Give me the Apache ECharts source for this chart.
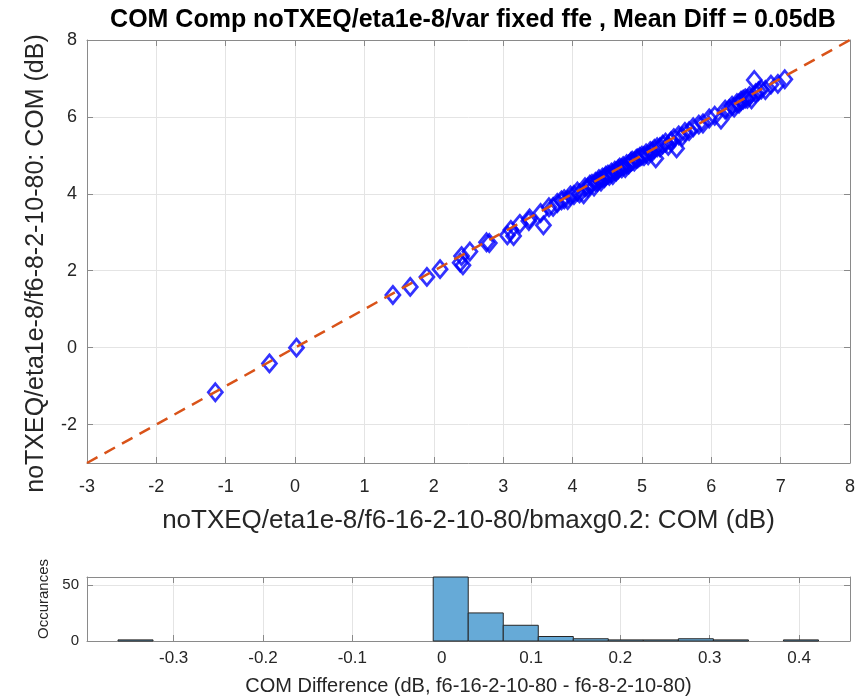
<!DOCTYPE html>
<html>
<head>
<meta charset="utf-8">
<script src="https://cdn.jsdelivr.net/npm/echarts@6/dist/echarts.min.js"></script>
<style>
    html, body { margin: 0; padding: 0; background: #fff; }
    #chart { width: 859px; height: 697px; }
</style>
</head>
<body>
<div id="chart"></div>
<script>
// COM values, f6-16 (x) vs f6-8 (y)
const comX = [-1.15, -0.37, 0.02, 1.41, 1.66, 1.90, 2.09, 2.38, 2.42, 2.40, 2.52, 2.76, 2.80, 3.06, 3.15, 3.11, 3.24, 3.38, 3.37, 3.54,
    3.58, 3.66, 3.72, 3.78, 3.84, 3.88, 3.93, 3.97, 4.02, 4.07, 4.10, 4.16, 4.18, 4.22, 4.25, 4.28, 4.31, 4.33, 4.36, 4.38,
    4.41, 4.43, 4.46, 4.48, 4.51, 4.53, 4.56, 4.58, 4.61, 4.63, 4.66, 4.68, 4.71, 4.73, 4.76, 4.78, 4.81, 4.84, 4.86, 4.89,
    4.92, 4.94, 4.97, 5.00, 5.03, 5.06, 5.09, 5.12, 5.15, 5.20, 5.18, 5.22, 5.26, 5.30, 5.34, 5.38, 5.42, 5.46, 5.50, 5.53,
    5.58, 5.62, 5.68, 5.74, 5.82, 5.88, 5.97, 6.05, 6.14, 6.20, 6.26, 6.30, 6.33, 6.37, 6.40, 6.43, 6.46, 6.49, 6.52, 6.55,
    6.58, 6.62, 6.64, 6.68, 6.72, 6.78, 6.86, 6.96, 7.06];
const comY = [-1.16, -0.41, 0.00, 1.37, 1.58, 1.84, 2.04, 2.21, 2.14, 2.38, 2.50, 2.74, 2.72, 2.92, 2.90, 3.06, 3.22, 3.36, 3.29, 3.50,
    3.18, 3.65, 3.66, 3.76, 3.83, 3.86, 3.84, 3.96, 3.97, 4.06, 4.01, 3.99, 4.17, 4.16, 4.24, 4.26, 4.19, 4.31, 4.31, 4.38,
    4.32, 4.42, 4.41, 4.47, 4.50, 4.47, 4.55, 4.49, 4.60, 4.58, 4.64, 4.68, 4.66, 4.72, 4.67, 4.77, 4.76, 4.83, 4.86, 4.84,
    4.91, 4.92, 4.96, 4.99, 4.98, 5.05, 5.00, 5.11, 5.10, 4.92, 5.17, 5.21, 5.21, 5.28, 5.33, 5.25, 5.37, 5.45, 5.18, 5.52,
    5.49, 5.61, 5.63, 5.73, 5.80, 5.83, 5.96, 6.03, 5.93, 6.19, 6.21, 6.29, 6.24, 6.36, 6.35, 6.42, 6.45, 6.48, 6.47, 6.54,
    6.46, 6.96, 6.62, 6.67, 6.71, 6.70, 6.84, 6.86, 6.98];
// y = x reference line
const refLine = [-3, 8];

// histogram of differences
const binEdges = [-0.3623, -0.3231, -0.2839, -0.2447, -0.2055, -0.1663, -0.1271, -0.0879, -0.0487, -0.0095, 0.0297,
    0.0689, 0.1081, 0.1473, 0.1865, 0.2257, 0.2649, 0.3041, 0.3433, 0.3825, 0.4217];
const binCounts = [1, 0, 0, 0, 0, 0, 0, 0, 0, 57, 25, 14, 4, 2, 1, 1, 2, 1, 0, 1];

const FONT = 'Liberation Sans';
const TXT = '#262626';
const AXC = '#8a8a8a';
const GRIDC = '#e4e4e4';

const scatterData = comX.map((x, i) => [x, comY[i]]);
const histData = binCounts.map((c, i) => [binEdges[i], binEdges[i + 1], c]);

// plain axis used for the box (top/right) and as a base for the labelled ones
const boxAxis = (gridIndex, pos, min, max, extra) => Object.assign({
    gridIndex: gridIndex,
    position: pos,
    type: 'value',
    min: min,
    max: max,
    axisLine: { show: true, onZero: false, lineStyle: { color: AXC, width: 1 } },
    axisTick: { show: true, inside: true, length: 6, lineStyle: { color: AXC } },
    axisLabel: { show: false },
    splitLine: { show: false },
}, extra || {});

let myChart = echarts.init(document.getElementById('chart'));
let option = {
    backgroundColor: '#fff',
    animation: false,
    title: {
        text: 'COM Comp noTXEQ/eta1e-8/var fixed ffe , Mean Diff = 0.05dB',
        left: 468,
        top: 3,
        textAlign: 'center',
        textStyle: { fontFamily: FONT, fontSize: 25, fontWeight: 'bold', color: '#000' },
    },
    grid: [
        { left: 87, right: 9, top: 40, bottom: 234 },
        { left: 87, right: 9, top: 577, bottom: 55 },
    ],
    xAxis: [
        boxAxis(0, 'bottom', -3, 8, {
            interval: 1,
            name: 'noTXEQ/eta1e-8/f6-16-2-10-80/bmaxg0.2: COM (dB)',
            nameLocation: 'middle',
            nameGap: 45,
            nameTextStyle: { fontFamily: FONT, fontSize: 26, color: TXT },
            axisLabel: { show: true, margin: 15, fontFamily: FONT, fontSize: 18, color: TXT },
            splitLine: { show: true, lineStyle: { color: GRIDC, width: 1 } },
        }),
        boxAxis(0, 'top', -3, 8, { interval: 1 }),
        boxAxis(1, 'bottom', -0.397, 0.457, {
            splitNumber: 8,
            name: 'COM Difference (dB, f6-16-2-10-80 - f6-8-2-10-80)',
            nameLocation: 'middle',
            nameGap: 35,
            nameTextStyle: { fontFamily: FONT, fontSize: 20, color: TXT },
            axisLabel: { show: true, margin: 9, fontFamily: FONT, fontSize: 17, color: TXT, showMinLabel: false, showMaxLabel: false },
            splitLine: { show: true, lineStyle: { color: GRIDC, width: 1 } },
        }),
        boxAxis(1, 'top', -0.397, 0.457, { splitNumber: 8 }),
    ],
    yAxis: [
        boxAxis(0, 'left', -3, 8, {
            splitNumber: 6,
            name: 'noTXEQ/eta1e-8/f6-8-2-10-80: COM (dB)',
            nameLocation: 'middle',
            nameGap: 38,
            nameTextStyle: { fontFamily: FONT, fontSize: 25, color: TXT, padding: [0, 24, 0, 0] },
            axisLabel: { show: true, margin: 10, fontFamily: FONT, fontSize: 18, color: TXT, showMinLabel: false },
            splitLine: { show: true, lineStyle: { color: GRIDC, width: 1 } },
        }),
        boxAxis(0, 'right', -3, 8, { splitNumber: 6 }),
        boxAxis(1, 'left', 0, 57, {
            interval: 50,
            name: 'Occurances',
            nameLocation: 'middle',
            nameGap: 36,
            nameTextStyle: { fontFamily: FONT, fontSize: 15, color: TXT, padding: [0, 0, 0, 20] },
            axisLabel: { show: true, margin: 8, fontFamily: FONT, fontSize: 15, color: TXT, showMaxLabel: false },
            splitLine: { show: true, lineStyle: { color: GRIDC, width: 1 } },
        }),
        boxAxis(1, 'right', 0, 57, { interval: 50 }),
    ],
    series: [
        {
            type: 'scatter',
            xAxisIndex: 0,
            yAxisIndex: 0,
            symbol: 'diamond',
            symbolSize: [14, 17],
            itemStyle: { color: 'none', borderColor: '#0000ff', borderWidth: 2.8 },
            data: scatterData,
            z: 3,
        },
        {
            type: 'line',
            xAxisIndex: 0,
            yAxisIndex: 0,
            showSymbol: false,
            lineStyle: { color: '#D95319', width: 2.5, type: [12, 8] },
            data: refLine.map(v => [v, v]),
            z: 4,
        },
        {
            type: 'custom',
            xAxisIndex: 2,
            yAxisIndex: 2,
            encode: { x: [0, 1], y: 2 },
            data: histData,
            renderItem: (params, api) => {
                let c = api.value(2);
                if (!c) return null;
                let p0 = api.coord([api.value(0), 0]);
                let p1 = api.coord([api.value(1), c]);
                return {
                    type: 'rect',
                    shape: { x: p0[0], y: p1[1], width: p1[0] - p0[0], height: p0[1] - p1[1] },
                    style: { fill: '#66AAD7', stroke: '#262626', lineWidth: 1 },
                };
            },
        },
    ],
};
myChart.setOption(option);
</script>
</body>
</html>
